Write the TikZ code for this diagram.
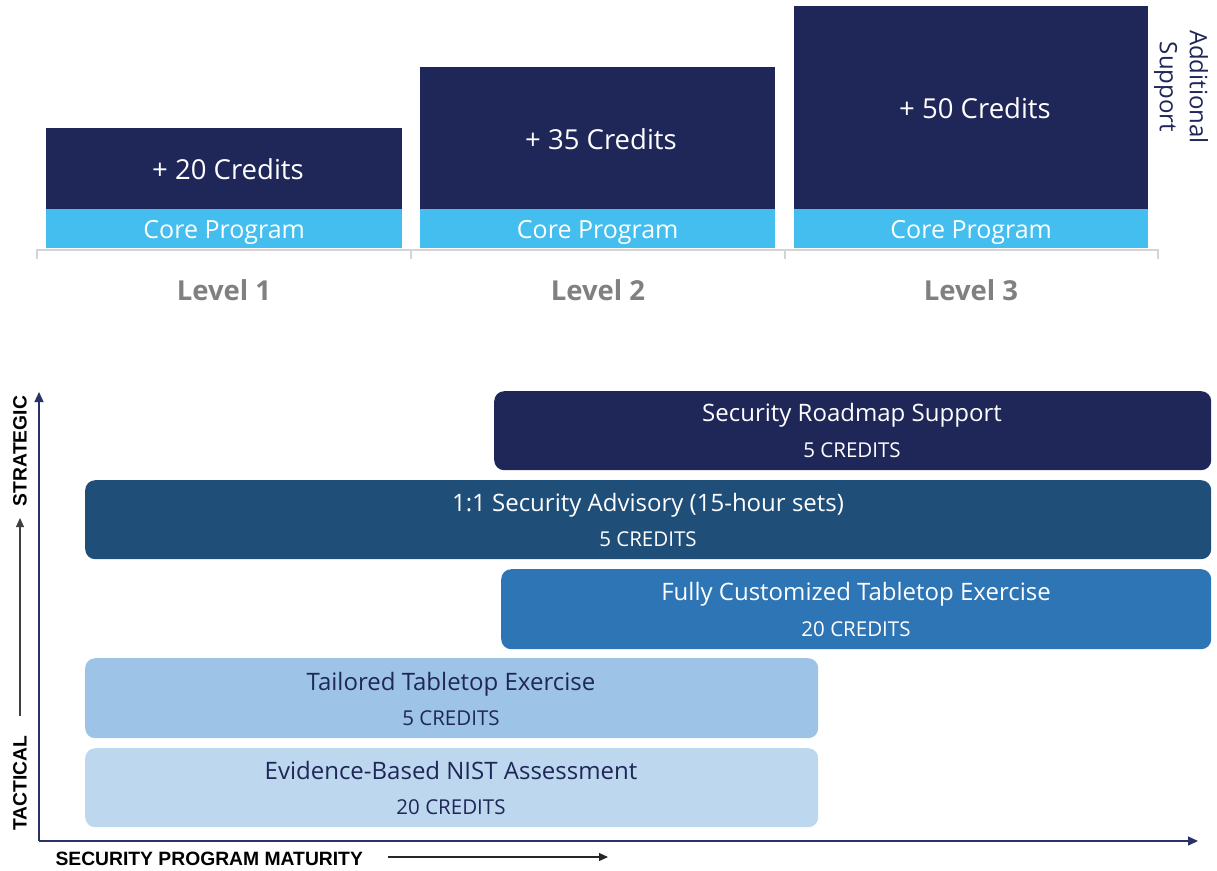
\documentclass[tikz,border=0pt]{standalone}
\usepackage{fontspec}
\setmainfont{Open Sans}
\newfontfamily\axisfont{Liberation Sans}
\usetikzlibrary{arrows.meta}
\definecolor{navy}{HTML}{1F2759}
\definecolor{core}{HTML}{44BEEE}
\definecolor{advis}{HTML}{1F4E79}
\definecolor{fully}{HTML}{2E75B6}
\definecolor{tailor}{HTML}{9DC3E6}
\definecolor{nist}{HTML}{BDD7EE}
\definecolor{lvl}{HTML}{808080}
\definecolor{basegray}{HTML}{D4D4D4}
\definecolor{axisnavy}{HTML}{283266}
\begin{document}
\begin{tikzpicture}[x=1pt,y=-1pt,
  bar/.style={fill=navy, draw=none, inner sep=0pt, anchor=north west},
  corebar/.style={fill=core, draw=none, inner sep=0pt, anchor=north west, minimum height=39pt},
  credtxt/.style={text=white, font=\fontsize{27.5}{32}\selectfont},
  coretxt/.style={text=white, font=\fontsize{25}{30}\selectfont},
  lvltxt/.style={text=lvl, font=\fontsize{27.5}{32}\selectfont\bfseries},
  rbox/.style={draw=none, rounded corners=10pt, inner sep=0pt, anchor=north west, minimum height=80pt},
  ttl/.style={font=\fontsize{24}{28}\selectfont, text height=17pt, text depth=5pt},
  crd/.style={font=\fontsize{20.5}{24}\selectfont},
  axlbl/.style={font=\axisfont\bfseries\fontsize{19.3}{22}\selectfont, text=black},
]
\useasboundingbox (0,0) rectangle (1217,870);

% top bars
\node[bar, minimum width=356pt, minimum height=81pt] (d1) at (46,128) {};
\node[corebar, minimum width=356pt] (c1) at (46,209) {};
\node[bar, minimum width=355pt, minimum height=142pt] (d2) at (420,67) {};
\node[corebar, minimum width=355pt] (c2) at (420,209) {};
\node[bar, minimum width=354pt, minimum height=203pt] (d3) at (794,6) {};
\node[corebar, minimum width=354pt] (c3) at (794,209) {};

\node[credtxt] (t1) at (228,169) {+ 20 Credits};
\node[credtxt] (t2) at (601,139) {+ 35 Credits};
\node[credtxt] (t3) at (975,108) {+ 50 Credits};
\node[coretxt] (k1) at ([yshift=-4pt]c1.center) {Core Program};
\node[coretxt] (k2) at ([yshift=-4pt]c2.center) {Core Program};
\node[coretxt] (k3) at ([yshift=-4pt]c3.center) {Core Program};

\node[rotate=-90, align=center, text=navy, font=\fontsize{24}{30}\selectfont] (add) at (1181,87) {Additional\\Support};

% baseline
\draw[basegray, line width=2pt] (37,259) -- (37,250) -- (1158,250) -- (1158,259);
\draw[basegray, line width=2pt] (411,250) -- (411,259);
\draw[basegray, line width=2pt] (785,250) -- (785,259);

\node[lvltxt] (l1) at (224,290) {Level 1};
\node[lvltxt] (l2) at (598,290) {Level 2};
\node[lvltxt] (l3) at (971,290) {Level 3};

% bottom chart boxes
\node[rbox, fill=navy, minimum width=717pt, minimum height=79pt] (b1) at (494,391) {};
\node[rbox, fill=advis, minimum width=1126pt, minimum height=79pt] (b2) at (85,480) {};
\node[rbox, fill=fully, minimum width=710pt] (b3) at (501,569) {};
\node[rbox, fill=tailor, minimum width=733pt] (b4) at (85,658) {};
\node[rbox, fill=nist, minimum width=733pt, minimum height=79pt] (b5) at (85,748) {};

\node[ttl, text=white] (b1t) at (852,415) {Security Roadmap Support};
\node[crd, text=white] (b1c) at (852,450) {5 CREDITS};
\node[ttl, text=white] (b2t) at (648,505) {1:1 Security Advisory (15-hour sets)};
\node[crd, text=white] (b2c) at (648,539) {5 CREDITS};
\node[ttl, text=white] (b3t) at (856,594) {Fully Customized Tabletop Exercise};
\node[crd, text=white] (b3c) at (856,629) {20 CREDITS};
\node[ttl, text=navy] (b4t) at (451,684) {Tailored Tabletop Exercise};
\node[crd, text=navy] (b4c) at (451,718) {5 CREDITS};
\node[ttl, text=navy] (b5t) at (451,773) {Evidence-Based NIST Assessment};
\node[crd, text=navy] (b5c) at (451,807) {20 CREDITS};

% axes
\coordinate (O) at (39,841);
\coordinate (Ytop) at (39,392);
\coordinate (Xend) at (1198,841);
\draw[axisnavy, line width=1.3pt, -{Triangle[length=10pt,width=9pt]}] (O) -- (Ytop);
\draw[axisnavy, line width=1.3pt, -{Triangle[length=10pt,width=9pt]}] (O) -- (Xend);

\node[axlbl, rotate=90] (strat) at (20,451) {STRATEGIC};
\node[axlbl, rotate=90] (tact) at (20,783) {TACTICAL};
\coordinate (sa0) at (20,716);
\coordinate (sa1) at (20,518);
\draw[black!75, line width=1.2pt, -{Triangle[length=9pt,width=8pt]}] (sa0) -- (sa1);

\node[axlbl, anchor=west] (mat) at (52,859) {SECURITY PROGRAM MATURITY};
\coordinate (ma0) at (388,857);
\coordinate (ma1) at (608,857);
\draw[black!85, line width=1.2pt, -{Triangle[length=9pt,width=8pt]}] (ma0) -- (ma1);
\end{tikzpicture}
\end{document}
